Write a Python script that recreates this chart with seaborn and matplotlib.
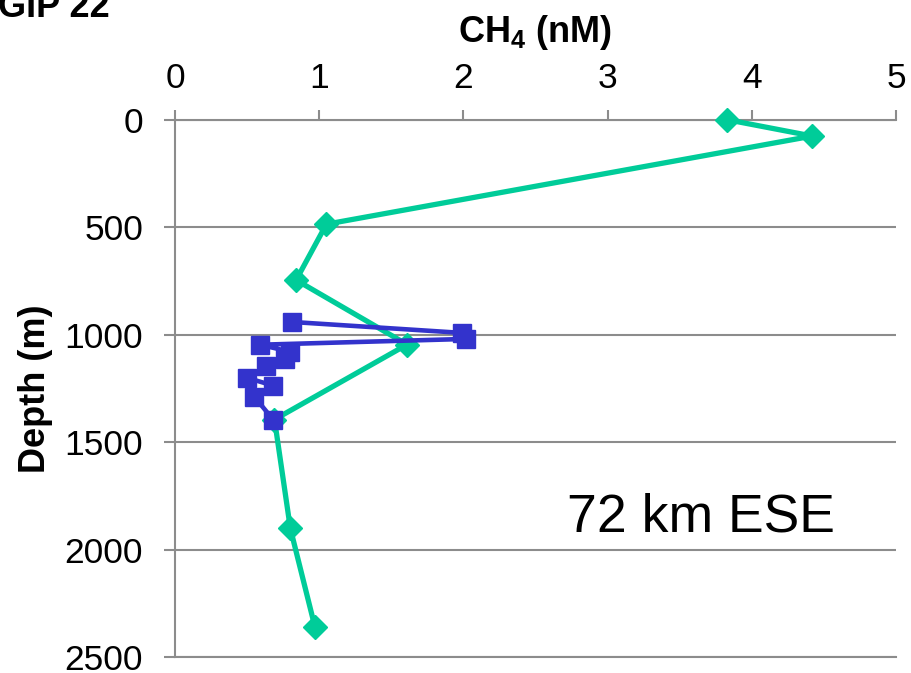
import matplotlib
matplotlib.use("Agg")
import matplotlib.pyplot as plt
import seaborn as sns
import pandas as pd

# Station profile: dissolved methane vs depth
green_ch4 = [3.83, 4.42, 1.05, 0.84, 1.61, 0.69, 0.80, 0.97]
green_depth = [0, 76, 486, 746, 1046, 1395, 1902, 2359]

blue_ch4 = [0.81, 1.99, 2.02, 0.59, 0.80, 0.76, 0.63, 0.50, 0.68, 0.55, 0.68]
blue_depth = [941, 992, 1020, 1047, 1080, 1113, 1147, 1201, 1237, 1289, 1395]

x_ticks = [0, 1, 2, 3, 4, 5]
y_ticks = [0, 500, 1000, 1500, 2000, 2500]

GREEN = "#00CC99"
BLUE = "#3333CC"
GRID = "#8C8C8C"

sns.set_theme(style="white")
plt.rcParams["font.family"] = ["Liberation Sans", "DejaVu Sans"]
plt.rcParams["text.color"] = "black"
plt.rcParams["axes.labelcolor"] = "black"
plt.rcParams["mathtext.fontset"] = "custom"
plt.rcParams["mathtext.rm"] = "Liberation Sans"
plt.rcParams["mathtext.bf"] = "Liberation Sans:bold"

fig = plt.figure(figsize=(9.11, 6.73), dpi=100)
ax = fig.add_axes([0.1921, 0.0238, 0.7914, 0.7983])

green_df = pd.DataFrame({"ch4": green_ch4, "depth": green_depth})
blue_df = pd.DataFrame({"ch4": blue_ch4, "depth": blue_depth})

sns.lineplot(data=green_df, x="ch4", y="depth", sort=False, estimator=None,
             color=GREEN, linewidth=3.8, marker="D", markersize=12.5,
             markeredgecolor=GREEN, markeredgewidth=1, ax=ax, zorder=3,
             clip_on=False)
sns.lineplot(data=blue_df, x="ch4", y="depth", sort=False, estimator=None,
             color=BLUE, linewidth=3.3, marker="s", markersize=13.5,
             markeredgecolor=BLUE, markeredgewidth=1, ax=ax, zorder=4,
             clip_on=False)

ax.set_xlim(0, 5)
ax.set_ylim(2500, 0)
ax.set_xticks(x_ticks)
ax.set_yticks(y_ticks)
ax.set_xticklabels([str(v) for v in x_ticks])
ax.set_yticklabels([str(v) for v in y_ticks])

ax.xaxis.tick_top()
ax.xaxis.set_label_position("top")

ax.yaxis.grid(True, color=GRID, linewidth=1.5)
ax.xaxis.grid(False)

for side in ["top", "left", "bottom"]:
    ax.spines[side].set_visible(True)
    ax.spines[side].set_color(GRID)
    ax.spines[side].set_linewidth(1.5)
ax.spines["right"].set_visible(False)

ax.tick_params(axis="x", which="both", top=True, bottom=False, direction="out",
               length=7.5, width=1.5, color=GRID, labelsize=25.5, pad=10,
               labelcolor="black")
ax.tick_params(axis="y", which="both", left=True, right=False, direction="out",
               length=8, width=1.5, color=GRID, labelsize=25.5, pad=15,
               labelcolor="black")

ax.set_xlabel(r"CH$_\mathbf{4}$ (nM)", fontsize=26, fontweight="bold",
              labelpad=15, color="black")
ax.set_ylabel("Depth (m)", fontsize=26, fontweight="bold", labelpad=8,
              color="black")

ax.text(3.65, 1850, "72 km ESE", fontsize=38.5, ha="center", va="center",
        color="black")

fig.text(110 / 911, 1 - 17 / 673, "GIP 22", fontsize=26, fontweight="bold",
         ha="right", va="baseline", color="black")

fig.savefig("out.png", dpi=100)
